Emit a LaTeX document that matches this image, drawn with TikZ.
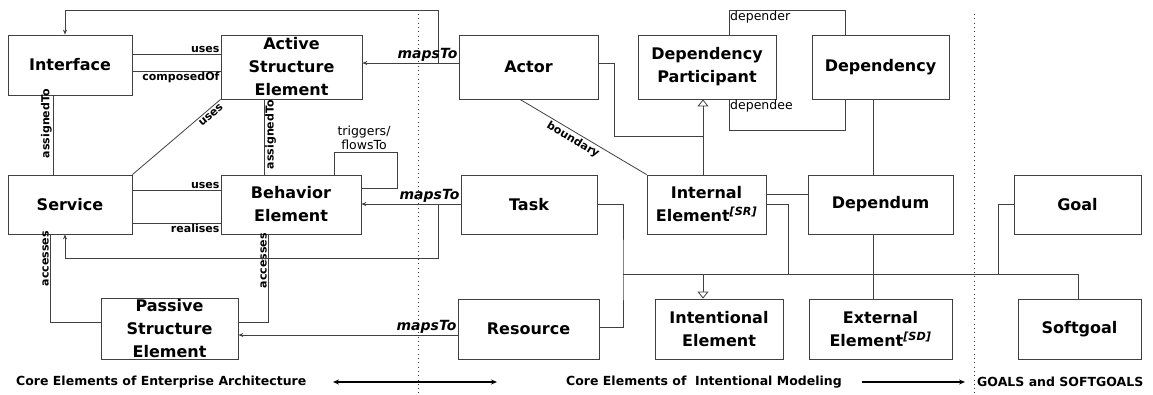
\documentclass[tikz,border=0pt]{standalone}
\usepackage{fontspec}
\setmainfont{DejaVu Sans}
\usetikzlibrary{arrows.meta}

\begin{document}
\begin{tikzpicture}[
    x = 1pt, y = -1pt,
    wire/.style = {draw = black!75, line width = 0.8pt},
    box/.style = {wire, fill = white, align = center, inner sep = 1pt,
        font = \fontsize{16}{23}\selectfont\bfseries},
    lbl/.style = {font = \fontsize{11}{12}\selectfont\bfseries, inner sep = 1pt},
    note/.style = {font = \fontsize{12.5}{14}\selectfont, inner sep = 1pt, align = center},
    maps/.style = {font = \fontsize{14}{15}\selectfont\bfseries\itshape, inner sep = 1pt},
    foot/.style = {font = \fontsize{12.5}{14}\selectfont\bfseries, inner sep = 0pt},
    mapto/.style = {-{Stealth[length = 5pt, width = 4pt]}},
    isa/.style = {-{Triangle[open, length = 7pt, width = 11pt]}},
    sep/.style = {draw = black!80, line width = 0.9pt, dash pattern = on 0.9pt off 3.4pt}]

\useasboundingbox (0,0) rectangle (1153,394);

\draw[sep] (418,14) -- (418,394)
           (974,14) -- (974,394);

\node[box, minimum width = 124pt, minimum height = 60pt] (iface) at (70,65) {Interface};
\node[box, minimum width = 141pt, minimum height = 64pt] (act) at (291.5,67) {Active\\Structure\\Element};
\node[box, minimum width = 124pt, minimum height = 59pt] (serv) at (70,204.5) {Service};
\node[box, minimum width = 140pt, minimum height = 59pt] (beh) at (291,204.5) {Behavior\\Element};
\node[box, minimum width = 137pt, minimum height = 60pt] (pass) at (169.5,329) {Passive\\Structure\\Element};
\node[box, minimum width = 139pt, minimum height = 64pt] (actor) at (528.5,67) {Actor};
\node[box, minimum width = 136pt, minimum height = 59pt] (task) at (529,204.5) {Task};
\node[box, minimum width = 141pt, minimum height = 60pt] (res) at (528.5,329) {Resource};
\node[box, minimum width = 138pt, minimum height = 64pt] (dpart) at (707,67) {Dependency\\Participant};
\node[box, minimum width = 137pt, minimum height = 64pt] (dep) at (880.5,67) {Dependency};
\node[box, minimum width = 119pt, minimum height = 59pt] (intern) at (706.5,204.5) {Internal\\Element\textsuperscript{\itshape [SR]}};
\node[box, minimum width = 145pt, minimum height = 59pt] (dum) at (880.5,204.5) {Dependum};
\node[box, minimum width = 128pt, minimum height = 60pt] (intent) at (719,329) {Intentional\\Element};
\node[box, minimum width = 143pt, minimum height = 60pt] (ext) at (880.5,329) {External\\Element\textsuperscript{\itshape [SD]}};
\node[box, minimum width = 127pt, minimum height = 59pt] (goal) at (1077.5,204.5) {Goal};
\node[box, minimum width = 123pt, minimum height = 60pt] (soft) at (1079.5,329) {Softgoal};

\draw[wire] (iface.east |- 0,54) -- (act.west |- 0,54)
            (iface.east |- 0,71) -- (act.west |- 0,71)
            (iface.south -| 53,0) -- (serv.north -| 53,0)
            (act.south -| 264,0) -- (beh.north -| 264,0)
            (serv.east |- 0,190) -- (beh.west |- 0,190)
            (serv.east |- 0,223) -- (beh.west |- 0,223)
            (beh.north -| 334,0) |- (397,152) |- (beh.east |- 0,188)
            (serv.south -| 50,0) |- (pass.west |- 0,322)
            (beh.south -| 268,0) |- (pass.east |- 0,322);
\draw[wire] (serv.north east) -- node[lbl, sloped, below = 1pt, pos = 0.85] {uses} (act.south west);

\node[lbl, anchor = south east] at (act.west |- 0,54) {uses};
\node[lbl, anchor = north east] at (act.west |- 0,71) {composedOf};
\node[lbl, rotate = 90, anchor = south east] at (53,88) {assignedTo};
\node[lbl, rotate = 90, anchor = north east] at (264,99) {assignedTo};
\node[lbl, anchor = south east] at (beh.west |- 0,190) {uses};
\node[lbl, anchor = north east] at (beh.west |- 0,223) {realises};
\node[note, anchor = south] at (364,151) {triggers/\\flowsTo};
\node[lbl, rotate = 90, anchor = south east] at (50,230) {accesses};
\node[lbl, rotate = 90, anchor = south east] at (268,232) {accesses};

\coordinate (up) at (438,63);
\coordinate (down) at (438,204);
\draw[wire, mapto] (actor.west |- 0,63) -- (act.east |- 0,63);
\draw[wire, mapto] (up) -- (438,10) -| (iface.north -| 65,0);
\draw[wire, mapto] (task.west |- 0,204) -- (beh.east |- 0,204);
\draw[wire, mapto] (down) -- (438,258) -| (serv.south -| 65,0);
\draw[wire, mapto] (res.west |- 0,335) -- (pass.east |- 0,335);
\node[maps, anchor = south east] at (actor.west |- 0,63) {mapsTo};
\node[maps, anchor = south east] at (task.west |- 0,204) {mapsTo};
\node[maps, anchor = south east] at (res.west |- 0,335) {mapsTo};

\draw[wire] (actor.south -| 520,0) -- node[lbl, sloped, below = 1pt, pos = 0.45] {boundary} (intern.north west);
\draw[wire] (actor.east |- 0,63) -| (614,136) -- (703,136);
\draw[wire, isa] (intern.north -| 703,0) -- (dpart.south -| 703,0);
\draw[wire] (dpart.north -| 729,0) |- (845,10) -- (dep.north -| 845,0)
            (dpart.south -| 729,0) |- (845,130) -- (dep.south -| 845,0)
            (dep.south -| 873,0) -- (dum.north -| 873,0)
            (intern.east |- 0,194) -- (dum.west |- 0,194)
            (intern.east |- 0,204) -| (788,274)
            (623,274) -- (1078,274)
            (task.east |- 0,204) -| (623,274) |- (res.east |- 0,327)
            (dum.south -| 873,0) -- (ext.north -| 873,0)
            (goal.west |- 0,204) -| (998,274)
            (1078,274) -- (soft.north -| 1078,0);
\draw[wire, isa] (703,274) -- (intent.north -| 703,0);
\node[note, anchor = north west] at (729,10) {depender};
\node[note, anchor = north west] at (729,99) {dependee};

\node[foot, anchor = west] (ea) at (16,382) {Core Elements of Enterprise Architecture};
\node[foot, anchor = west] (im) at (566,382) {Core Elements of~ Intentional Modeling};
\node[foot, anchor = west] (gs) at (977,382) {GOALS and SOFTGOALS};
\coordinate (eaend) at (333,382);
\coordinate (imstart) at (497,382);
\coordinate (imend) at (862,382);
\coordinate (gsstart) at (965,382);
\draw[line width = 1.6pt, {Stealth[length = 6pt, width = 5pt]}-{Stealth[length = 6pt, width = 5pt]}]
    (eaend) -- (imstart);
\draw[line width = 1.6pt, -{Stealth[length = 6pt, width = 5pt]}]
    (imend) -- (gsstart);
\end{tikzpicture}
\end{document}
